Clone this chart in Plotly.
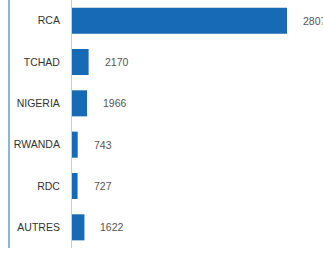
import plotly.graph_objects as go

categories = ["RCA", "TCHAD", "NIGERIA", "RWANDA", "RDC", "AUTRES"]
values = [28070, 2170, 1966, 743, 727, 1622]
value_labels = ["28070", "2170", "1966", "743", "727", "1622"]

BLUE = "#176ab6"

fig = go.Figure()
fig.add_trace(go.Bar(
    y=categories, x=values, orientation="h",
    marker=dict(color=BLUE, line=dict(width=0)),
    hoverinfo="skip",
))

for c, v, t in zip(categories, values, value_labels):
    fig.add_annotation(x=v, y=c, text=t, showarrow=False, xanchor="left",
                       xshift=14, font=dict(size=10.5, color="#555555",
                                            family="Liberation Sans, Arial, sans-serif"))

fig.add_shape(type="line", xref="paper", yref="paper",
              x0=-63/251, x1=-63/251, y0=0, y1=1,
              line=dict(color=BLUE, width=1))

fig.update_layout(
    width=323, height=253,
    margin=dict(l=72, r=0, t=0, b=5),
    paper_bgcolor="white", plot_bgcolor="white",
    bargap=0.37,
    showlegend=False,
    font=dict(family="Liberation Sans, Arial, sans-serif", size=10.5, color="#333333"),
    xaxis=dict(range=[0, 32770], showgrid=False, zeroline=False,
               showticklabels=False, showline=False, fixedrange=True),
    yaxis=dict(autorange="reversed", showgrid=False, zeroline=False,
               showline=True, linecolor="#cccccc", linewidth=1,
               ticks="", ticklabelstandoff=9, fixedrange=True),
)

fig.write_html("out.html", config={"displayModeBar": False},
               post_script="document.body.style.margin='0';document.body.style.overflow='hidden';")
